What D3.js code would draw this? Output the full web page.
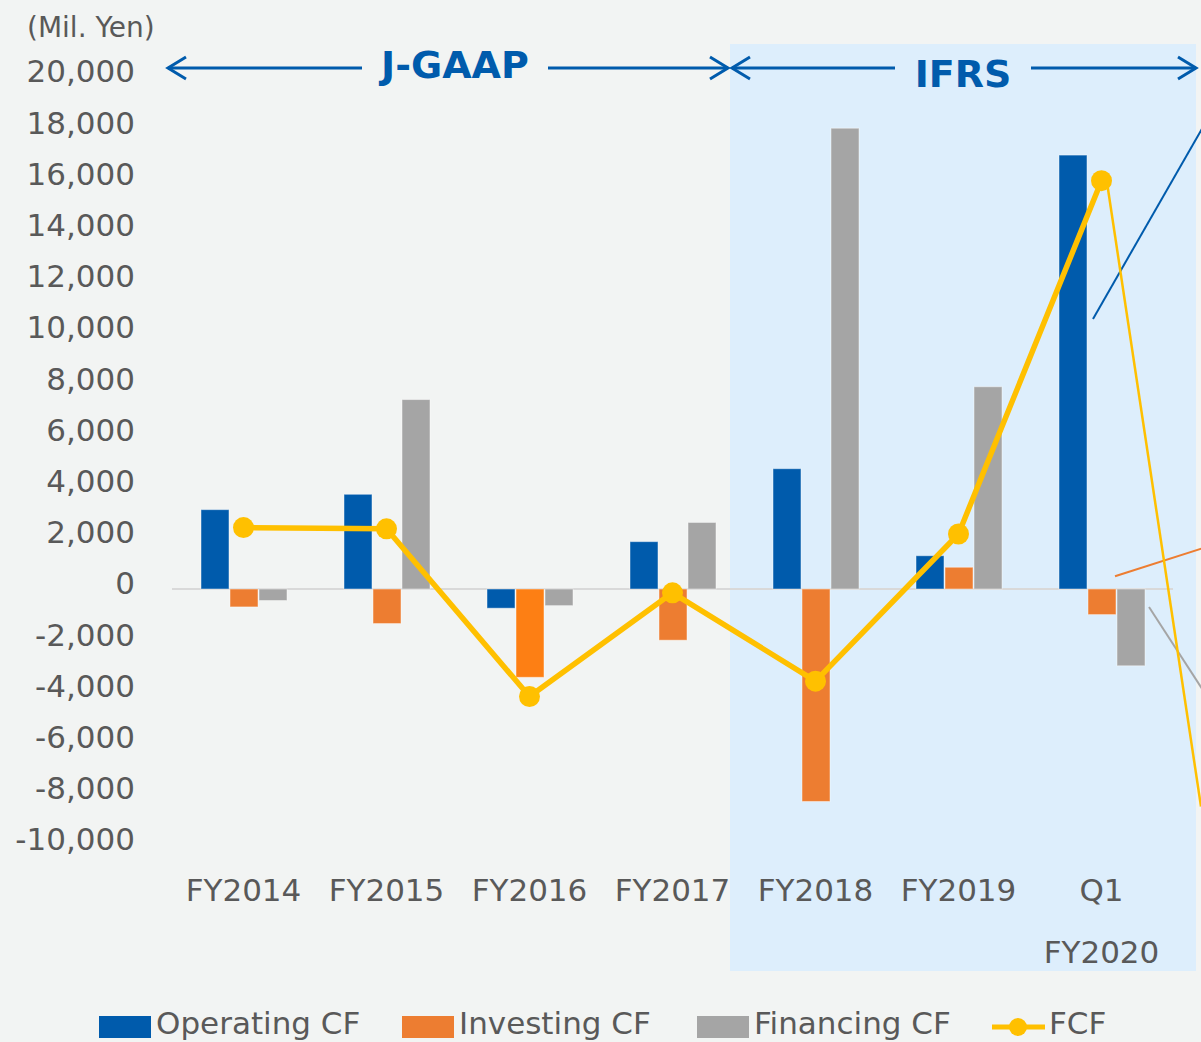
<!DOCTYPE html>
<html>
<head>
<meta charset="utf-8">
<script src="https://cdn.jsdelivr.net/npm/d3@7.9.0/dist/d3.min.js"></script>
<style>
  html, body { margin: 0; padding: 0; background: #f2f4f3; }
  svg { display: block; font-family: "DejaVu Sans", Verdana, sans-serif; }
</style>
</head>
<body>
<svg id="chart" width="1201" height="1042"></svg>
<script>
// data (Mil. Yen)
const categories = ["FY2014", "FY2015", "FY2016", "FY2017", "FY2018", "FY2019", "Q1"];
const operatingCF = [3100, 3700, -750, 1850, 4700, 1300, 16950];
const investingCF = [-700, -1350, -3450, -2000, -8300, 850, -1000];
const financingCF = [-450, 7400, -650, 2600, 18000, 7900, -3000];
const fcf = [2400, 2350, -4200, -150, -3600, 2150, 15950];
const yTicks = [20000, 18000, 16000, 14000, 12000, 10000, 8000, 6000, 4000, 2000, 0,
  -2000, -4000, -6000, -8000, -10000];
const seriesNames = ["Operating CF", "Investing CF", "Financing CF"];

const colors = { "Operating CF": "#005bac", "Investing CF": "#ed7d31", "Financing CF": "#a5a5a5" };
const fcfColor = "#ffc000";
const textColor = "#595959";
const noteBlue = "#005bac";

let svg = d3.select("#chart");

let x = d3.scaleBand().domain(categories).range([172, 1173]);
let x1 = d3.scaleBand().domain(seriesNames).range([29, 115]).paddingInner(0.035);
let y = d3.scaleLinear().domain([-10000, 20000]).range([845, 77]);

// background panels
svg.append("rect").attr("width", 1201).attr("height", 1042).attr("fill", "#f2f4f3");
svg.append("rect")
  .attr("x", 730).attr("y", 44)
  .attr("width", 466).attr("height", 927)
  .attr("fill", "#ddeefc");

// unit label
svg.append("text")
  .attr("x", 27).attr("y", 37)
  .attr("font-size", 28).attr("fill", textColor)
  .text("(Mil. Yen)");

// y axis labels (no line)
let fmt = d3.format(",");
let yAxis = d3.axisLeft(y).tickValues(yTicks).tickSize(0).tickPadding(0)
  .tickFormat(d => fmt(d).replace("\u2212", "-"));
let yg = svg.append("g").attr("transform", "translate(135,-5)").call(yAxis);
yg.select(".domain").remove();
yg.selectAll("text")
  .attr("font-size", 31).attr("fill", textColor)
  .attr("font-family", "DejaVu Sans, sans-serif");

// zero line
svg.append("line")
  .attr("x1", 172).attr("x2", 1173)
  .attr("y1", y(0)).attr("y2", y(0))
  .attr("stroke", "#d9d9d9").attr("stroke-width", 2);

// bars
let rows = categories.map((c, i) => ({
  cat: c,
  values: [operatingCF[i], investingCF[i], financingCF[i]]
}));

let groups = svg.selectAll("g.grp")
  .data(rows)
  .join("g")
  .attr("class", "grp")
  .attr("transform", d => `translate(${x(d.cat)},0)`);

groups.selectAll("rect")
  .data(d => d.values.map((v, k) => ({ key: seriesNames[k], value: v, cat: d.cat })))
  .join("rect")
  .attr("x", d => x1(d.key))
  .attr("width", x1.bandwidth())
  .attr("y", d => y(Math.max(0, d.value)))
  .attr("height", d => Math.abs(y(d.value) - y(0)))
  .attr("fill", d => (d.cat === "FY2016" && d.key === "Investing CF") ? "#fd7f14" : colors[d.key])
  .attr("stroke", "rgba(255,255,255,0.45)")
  .attr("stroke-width", 1);

// leader lines to labels that fall outside the frame
const qx = x("Q1");
const leaders = [
  { x1: qx + x1("Operating CF") + 34, y1: y(10550), x2: 1203, y2: y(18050), c: colors["Operating CF"], w: 2 },
  { x1: qx + x1("Investing CF") + 27, y1: y(500), x2: 1203, y2: y(1600), c: colors["Investing CF"], w: 2 },
  { x1: qx + x1("Financing CF") + 32, y1: y(-700), x2: 1203, y2: y(-3950), c: colors["Financing CF"], w: 2 },
  { x1: qx + x.bandwidth() / 2 + 6, y1: y(15750), x2: 1201, y2: y(-8500), c: fcfColor, w: 2.5 }
];
svg.selectAll("line.leader")
  .data(leaders)
  .join("line")
  .attr("class", "leader")
  .attr("x1", d => d.x1).attr("y1", d => d.y1)
  .attr("x2", d => d.x2).attr("y2", d => d.y2)
  .attr("stroke", d => d.c).attr("stroke-width", d => d.w);

// FCF line
let cx = c => x(c) + x.bandwidth() / 2;
let line = d3.line().x((d, i) => cx(categories[i])).y(d => y(d));
svg.append("path")
  .datum(fcf)
  .attr("d", line)
  .attr("fill", "none")
  .attr("stroke", fcfColor)
  .attr("stroke-width", 5.5)
  .attr("stroke-linejoin", "round");
svg.selectAll("circle.fcf")
  .data(fcf)
  .join("circle")
  .attr("class", "fcf")
  .attr("cx", (d, i) => cx(categories[i]))
  .attr("cy", d => y(d))
  .attr("r", 10.5)
  .attr("fill", fcfColor);

// x labels
svg.selectAll("text.xlab")
  .data(categories)
  .join("text")
  .attr("class", "xlab")
  .attr("x", d => cx(d))
  .attr("y", 901)
  .attr("text-anchor", "middle")
  .attr("font-size", 31).attr("fill", textColor)
  .text(d => d);
svg.append("text")
  .attr("x", cx("Q1")).attr("y", 963)
  .attr("text-anchor", "middle")
  .attr("font-size", 31).attr("fill", textColor)
  .text("FY2020");

// accounting standard arrows
function arrowSpan(xa, xb, gapA, gapB, label, ty) {
  let g = svg.append("g").attr("stroke", noteBlue).attr("stroke-width", 3).attr("fill", "none");
  g.append("line").attr("x1", xa).attr("x2", gapA).attr("y1", 68).attr("y2", 68);
  g.append("line").attr("x1", gapB).attr("x2", xb).attr("y1", 68).attr("y2", 68);
  g.append("path").attr("d", `M${xa + 18},57 L${xa},68 L${xa + 18},79`);
  g.append("path").attr("d", `M${xb - 18},57 L${xb},68 L${xb - 18},79`);
  svg.append("text")
    .attr("x", (gapA + gapB) / 2).attr("y", ty)
    .attr("text-anchor", "middle")
    .attr("font-size", 38).attr("font-weight", "bold")
    .attr("fill", noteBlue)
    .text(label);
}
arrowSpan(168, 728, 362, 548, "J-GAAP", 78);
arrowSpan(732, 1196, 895, 1031, "IFRS", 87);

// legend
const legendItems = [
  { name: "Operating CF", x: 99 },
  { name: "Investing CF", x: 402 },
  { name: "Financing CF", x: 697 },
  { name: "FCF", x: 992 }
];
let lg = svg.append("g");
legendItems.forEach(it => {
  if (it.name === "FCF") {
    lg.append("line").attr("x1", it.x).attr("x2", it.x + 53)
      .attr("y1", 1027).attr("y2", 1027)
      .attr("stroke", fcfColor).attr("stroke-width", 5);
    lg.append("circle").attr("cx", it.x + 26).attr("cy", 1027).attr("r", 9).attr("fill", fcfColor);
  } else {
    lg.append("rect").attr("x", it.x).attr("y", 1016).attr("width", 52).attr("height", 22)
      .attr("fill", colors[it.name]);
  }
  lg.append("text")
    .attr("x", it.x + 57).attr("y", 1034)
    .attr("font-size", 31).attr("fill", textColor)
    .text(it.name);
});
</script>
</body>
</html>
